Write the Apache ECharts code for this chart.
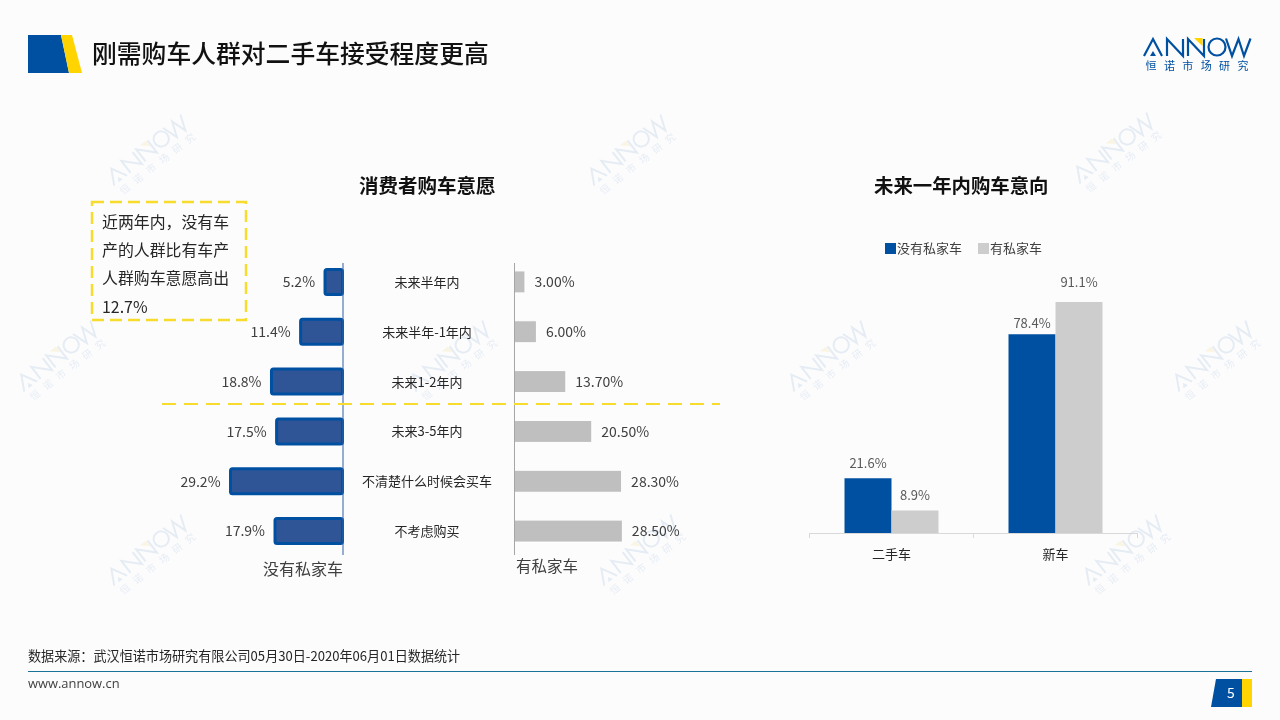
<!DOCTYPE html>
<html><head><meta charset="utf-8">
<style>html,body{margin:0;padding:0;background:#fcfcfd}#c{width:1280px;height:720px}</style>
<script src="https://cdn.jsdelivr.net/npm/echarts@6/dist/echarts.min.js"></script>
</head><body><div id="c"></div>
<script>
const FONT = '"Noto Sans CJK SC","Noto Sans",sans-serif';
const categories = ['未来半年内','未来半年-1年内','未来1-2年内','未来3-5年内','不清楚什么时候会买车','不考虑购买'];
const noCarIntent = [5.2,11.4,18.8,17.5,29.2,17.9];
const hasCarIntent = [3.0,6.0,13.7,20.5,28.3,28.5];
const typeCategories = ['二手车','新车'];
const noCarType = [21.6,78.4];
const hasCarType = [8.9,91.1];
const noteLines = ['近两年内，没有车','产的人群比有车产','人群购车意愿高出','12.7%'];
const BLUE = '#0050A2', GOLD = '#FFD400', DASH = '#F7DC2E';

function logo(x, y, color, accent, opacity, scale, rotation) {
  const ls = {stroke: color, fill: 'none', lineWidth: 2.2, opacity};
  const line = pts => ({type:'polyline', shape:{points:pts}, style:ls});
  return {
    type:'group', x, y, scaleX:scale, scaleY:scale, rotation, z:0, silent:true,
    children:[
      line([[-53,9],[-44,-8],[-35,9]]),
      {type:'polygon', shape:{points:[[-44,4],[-41,9],[-47,9]]}, style:{fill:color,opacity}},
      line([[-30,9],[-30,-8],[-14,9],[-14,-8]]),
      line([[-9,9],[-9,-8],[7,9],[7,-8]]),
      {type:'polygon', shape:{points:[[-3,-9],[5.5,-9],[5.5,-1]]}, style:{fill:accent,opacity}},
      {type:'circle', shape:{cx:20,cy:0,r:8.5}, style:ls},
      line([[29,-8.5],[35,9],[41.5,-8],[47,9],[53.5,-8.5]]),
      {type:'text', x:0, y:19, style:{text:'恒   诺   市   场   研   究', font:'11px '+FONT, fill:color, opacity, align:'center', verticalAlign:'middle'}}
    ]
  };
}
const watermarkSpots = [[147,150],[627,150],[1113,148],[57,356],[449,356],[827,356],[1212,356],[147,550],[637,550],[1122,550]];
const graphics = [
  ...watermarkSpots.map(p => logo(p[0],p[1],'#1F5FA8','#E8B800',0.1,0.9,0.66)),
  {type:'polygon', z:5, shape:{points:[[28,35],[61,35],[69,73],[28,73]]}, style:{fill:BLUE}},
  {type:'polygon', z:5, shape:{points:[[61,35],[72,35],[82,73],[69,73]]}, style:{fill:GOLD}},
  logo(1197,47,BLUE,GOLD,1,1,0),
  {type:'line', z:5, shape:{x1:343,y1:263,x2:343,y2:555}, style:{stroke:'#2F5FA5',lineWidth:1}},
  {type:'line', z:5, shape:{x1:514.5,y1:263,x2:514.5,y2:555}, style:{stroke:'#A6A6A6',lineWidth:1}},
  {type:'rect', z:5, shape:{x:92,y:202,width:154,height:118}, style:{fill:'none',stroke:DASH,lineWidth:2.5,lineDash:[12,6]}},
  ...noteLines.map((t,i)=>({type:'text', z:6, x:102, y:222+i*28.2, style:{text:t,font:'15.9px '+FONT,fill:'#262626',verticalAlign:'middle'}})),
  {type:'line', z:5, shape:{x1:162,y1:404,x2:720,y2:404}, style:{stroke:DASH,lineWidth:2,lineDash:[14,8]}},
  {type:'text', z:6, x:343, y:569, style:{text:'没有私家车',font:'16px '+FONT,fill:'#404040',align:'right',verticalAlign:'middle'}},
  {type:'text', z:6, x:516, y:566, style:{text:'有私家车',font:'15.5px '+FONT,fill:'#404040',verticalAlign:'middle'}},
  {type:'text', z:6, x:28, y:656, style:{text:'数据来源：武汉恒诺市场研究有限公司05月30日-2020年06月01日数据统计',font:'13.1px '+FONT,fill:'#262626',verticalAlign:'middle'}},
  {type:'line', z:5, shape:{x1:28,y1:671.5,x2:1252,y2:671.5}, style:{stroke:'#1A7299',lineWidth:1}},
  {type:'text', z:6, x:28, y:684, style:{text:'www.annow.cn',font:'12.9px "Open Sans",sans-serif',fill:'#404040',verticalAlign:'middle'}},
  {type:'polygon', z:5, shape:{points:[[1216,679],[1242,679],[1242,707],[1211,707]]}, style:{fill:BLUE}},
  {type:'rect', z:5, shape:{x:1242,y:679,width:10,height:28}, style:{fill:GOLD}},
  {type:'text', z:6, x:1231, y:693, style:{text:'5',font:'14px '+FONT,fill:'#fff',align:'center',verticalAlign:'middle'}}
];

const chart = echarts.init(document.getElementById('c'), null, {renderer:'canvas'});
chart.setOption({
  animation:false,
  backgroundColor:'#fcfcfd',
  textStyle:{fontFamily:FONT},
  title:[
    {text:'刚需购车人群对二手车接受程度更高', left:92, top:41, padding:0, textStyle:{fontSize:24.8,fontWeight:500,color:'#111',fontFamily:FONT}},
    {text:'消费者购车意愿', left:359, top:176, padding:0, textStyle:{fontSize:19.5,fontWeight:'bold',color:'#111',fontFamily:FONT}},
    {text:'未来一年内购车意向', left:874, top:176, padding:0, textStyle:{fontSize:19.4,fontWeight:'bold',color:'#111',fontFamily:FONT}}
  ],
  legend:{
    left:885, top:242, padding:0, itemWidth:11, itemHeight:11, itemGap:16, icon:'rect',
    data:['没有私家车','有私家车'],
    textStyle:{fontSize:13,color:'#404040',padding:[0,0,0,-4],fontFamily:FONT}
  },
  grid:[
    {left:186.5, top:257, width:157.5, height:299},
    {left:514, top:257, width:152.8, height:299},
    {left:809.5, top:279.5, width:328, height:253.5}
  ],
  xAxis:[
    {gridIndex:0, type:'value', inverse:true, min:0, max:40, show:false},
    {gridIndex:1, type:'value', min:0, max:40, show:false},
    {gridIndex:2, type:'category', data:typeCategories,
      axisLine:{lineStyle:{color:'#D9D9D9'}}, axisTick:{show:true,length:5,lineStyle:{color:'#D9D9D9'}},
      axisLabel:{fontSize:13,color:'#262626',margin:15,fontFamily:FONT}}
  ],
  yAxis:[
    {gridIndex:0, type:'category', inverse:true, position:'right', data:categories,
      axisLine:{show:false}, axisTick:{show:false},
      axisLabel:{align:'center',margin:83,fontSize:13,color:'#262626',fontFamily:FONT}},
    {gridIndex:1, type:'category', inverse:true, data:categories, show:false},
    {gridIndex:2, type:'value', min:0, max:100, show:false}
  ],
  series:[
    {name:'购车意愿-没有私家车', type:'bar', xAxisIndex:0, yAxisIndex:0, data:noCarIntent, barWidth:28,
      itemStyle:{color:'#2F5597',borderColor:BLUE,borderWidth:3,borderRadius:2},
      label:{show:true,position:'left',distance:8.5,fontSize:14,color:'#404040',formatter:p=>p.value.toFixed(1)+'%'}},
    {name:'购车意愿-有私家车', type:'bar', xAxisIndex:1, yAxisIndex:1, data:hasCarIntent, barWidth:23,
      itemStyle:{color:'#BFBFBF',borderColor:'#ffffff',borderWidth:1},
      label:{show:true,position:'right',distance:9,fontSize:14,color:'#404040',formatter:p=>p.value.toFixed(2)+'%'}},
    {name:'没有私家车', type:'bar', xAxisIndex:2, yAxisIndex:2,
      data:noCarType.map((v,i)=>i===1?{value:v,label:{distance:5}}:v), barWidth:47, barGap:0,
      itemStyle:{color:BLUE},
      label:{show:true,position:'top',distance:9,fontSize:13,color:'#595959',formatter:p=>p.value.toFixed(1)+'%'}},
    {name:'有私家车', type:'bar', xAxisIndex:2, yAxisIndex:2,
      data:hasCarType.map((v,i)=>i===1?{value:v,label:{distance:13}}:v), barWidth:47, barGap:0,
      itemStyle:{color:'#CDCDCD'},
      label:{show:true,position:'top',distance:9,fontSize:13,color:'#595959',formatter:p=>p.value.toFixed(1)+'%'}}
  ],
  graphic:{elements:graphics}
});
</script></body></html>
